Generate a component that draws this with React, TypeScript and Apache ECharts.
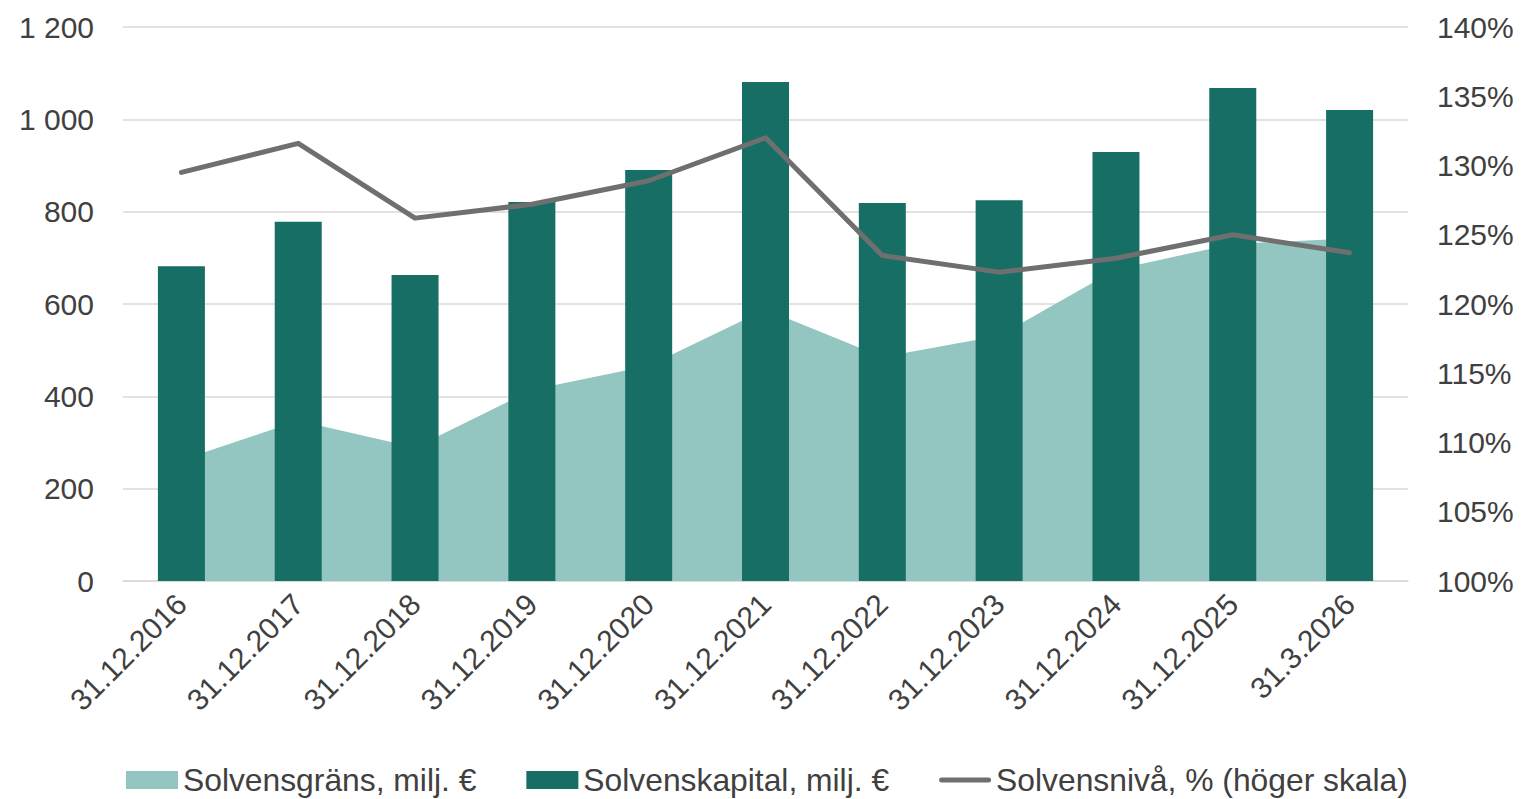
import React, { useEffect, useRef } from "react";
import * as echarts from "echarts";

const categories = [
  "31.12.2016",
  "31.12.2017",
  "31.12.2018",
  "31.12.2019",
  "31.12.2020",
  "31.12.2021",
  "31.12.2022",
  "31.12.2023",
  "31.12.2024",
  "31.12.2025",
  "31.3.2026",
];
const solvensgrans = [262, 347, 289, 414, 466, 588, 485, 531, 675, 730, 742];
const solvenskapital = [682, 778, 663, 821, 890, 1081, 819, 825, 929, 1068, 1020];
const solvensniva = [129.5, 131.6, 126.2, 127.2, 128.9, 132.0, 123.5, 122.3, 123.3, 125.0, 123.7];

const FONT = "'Liberation Sans', Arial, sans-serif";
const TEXT = "#404040";

export default function App() {
  const ref = useRef<HTMLDivElement>(null);
  useEffect(() => {
    if (!ref.current) return;
    const chart = echarts.init(ref.current, undefined, { renderer: "svg" });
    chart.setOption({
      animation: false,
      textStyle: { fontFamily: FONT },
      grid: { left: 123, right: 113, top: 27, bottom: 218, containLabel: false },
      legend: {
        left: 126,
        top: 764,
        padding: 0,
        itemWidth: 52,
        itemHeight: 18,
        itemGap: 50,
        textStyle: { fontSize: 31.8, color: TEXT, fontFamily: FONT, lineHeight: 32 },
        data: [
          { name: "Solvensgräns, milj. €", icon: "rect" },
          { name: "Solvenskapital, milj. €", icon: "rect" },
          {
            name: "Solvensnivå, % (höger skala)",
            icon: "path://M2.5,0 H49.5 A2.5,2.5 0 0 1 49.5,5 H2.5 A2.5,2.5 0 0 1 2.5,0 Z",
            itemStyle: { color: "#6F6F6F" },
          },
        ],
      },
      xAxis: {
        type: "category",
        data: categories,
        boundaryGap: true,
        axisLine: { show: true, lineStyle: { color: "#D9D9D9", width: 1.5 } },
        axisTick: { show: false },
        axisLabel: {
          rotate: 45,
          fontSize: 30,
          color: TEXT,
          fontFamily: FONT,
          margin: 18,
          interval: 0,
        },
      },
      yAxis: [
        {
          type: "value",
          min: 0,
          max: 1200,
          interval: 200,
          axisLine: { show: false },
          axisTick: { show: false },
          splitLine: { lineStyle: { color: "#D9D9D9", width: 1.5 } },
          axisLabel: {
            fontSize: 30,
            color: TEXT,
            fontFamily: FONT,
            margin: 29,
            formatter: (v: number) => (v >= 1000 ? `${Math.floor(v / 1000)} ${String(v % 1000).padStart(3, "0")}` : String(v)),
          },
        },
        {
          type: "value",
          min: 100,
          max: 140,
          interval: 5,
          position: "right",
          axisLine: { show: false },
          axisTick: { show: false },
          splitLine: { show: false },
          axisLabel: {
            fontSize: 30,
            color: TEXT,
            fontFamily: FONT,
            margin: 29,
            formatter: "{value}%",
          },
        },
      ],
      series: [
        {
          name: "Solvensgräns, milj. €",
          type: "line",
          data: solvensgrans,
          yAxisIndex: 0,
          symbol: "none",
          z: 1,
          lineStyle: { width: 0, color: "#93C6C1" },
          itemStyle: { color: "#93C6C1" },
          areaStyle: { color: "#93C6C1", opacity: 1 },
        },
        {
          name: "Solvenskapital, milj. €",
          type: "bar",
          data: solvenskapital,
          yAxisIndex: 0,
          barWidth: 47,
          z: 2,
          itemStyle: { color: "#176E64" },
        },
        {
          name: "Solvensnivå, % (höger skala)",
          type: "line",
          data: solvensniva,
          yAxisIndex: 1,
          symbol: "none",
          z: 3,
          lineStyle: { width: 5, color: "#6F6F6F", cap: "round", join: "round" },
          itemStyle: { color: "#6F6F6F" },
        },
      ],
    });
    return () => chart.dispose();
  }, []);
  return (
    <div
      ref={ref}
      style={{ position: "absolute", left: 0, top: 0, width: 1521, height: 799, background: "#fff" }}
    />
  );
}
